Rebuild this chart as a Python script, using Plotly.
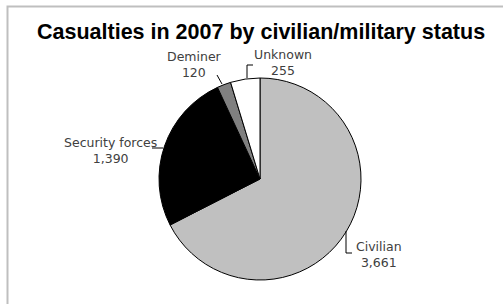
import plotly.graph_objects as go

W, H = 503, 304

categories = ["Civilian", "Security forces", "Deminer", "Unknown"]
values = [3661, 1390, 120, 255]
value_labels = ["3,661", "1,390", "120", "255"]
colors = ["#C0C0C0", "#000000", "#808080", "#FFFFFF"]

def px(x):
    return x / W

def py(y):
    return 1 - y / H

fig = go.Figure(go.Pie(
    labels=categories,
    values=values,
    sort=False,
    direction="clockwise",
    rotation=0,
    marker=dict(colors=colors, line=dict(color="#000000", width=1)),
    textinfo="none",
    hoverinfo="label+value",
    domain=dict(x=[px(159), px(361)], y=[py(280), py(78)]),
    showlegend=False,
))

label_pos = {
    "Civilian": (379, 254),
    "Security forces": (110, 150),
    "Deminer": (194, 64),
    "Unknown": (283, 62),
}

annotations = [dict(
    text="<b>Casualties in 2007 by civilian/military status</b>",
    x=px(261), y=py(32), xref="paper", yref="paper",
    showarrow=False, xanchor="center", yanchor="middle",
    font=dict(family="Liberation Sans", size=21.5, color="#000000"),
)]
for cat, val in zip(categories, value_labels):
    x, y = label_pos[cat]
    annotations.append(dict(
        text=f"{cat}<br>{val}", x=px(x), y=py(y), xref="paper", yref="paper",
        showarrow=False, xanchor="center", yanchor="middle", align="center",
        font=dict(family="DejaVu Sans", size=12.5, color="#404040"),
    ))

leaders = [
    [(346, 231), (346, 253), (352, 253)],
    [(152, 148), (163, 148)],
    [(217, 75), (222, 84)],
    [(253, 65), (247, 65), (247, 78)],
]
shapes = [dict(type="rect", xref="paper", yref="paper",
               x0=px(7.5), y0=-0.1, x1=1.1, y1=py(6.5),
               line=dict(color="#BFBFBF", width=2), fillcolor="rgba(0,0,0,0)")]
for pts in leaders:
    path = "M " + " L ".join(f"{px(x)},{py(y)}" for x, y in pts)
    shapes.append(dict(type="path", xref="paper", yref="paper", path=path,
                       line=dict(color="#000000", width=1)))

fig.update_layout(
    width=W, height=H,
    margin=dict(l=0, r=0, t=0, b=0),
    paper_bgcolor="#FFFFFF", plot_bgcolor="#FFFFFF",
    annotations=annotations, shapes=shapes,
)

fig.write_html("out.html", config={"displayModeBar": False},
               post_script="document.body.style.margin='0';")
